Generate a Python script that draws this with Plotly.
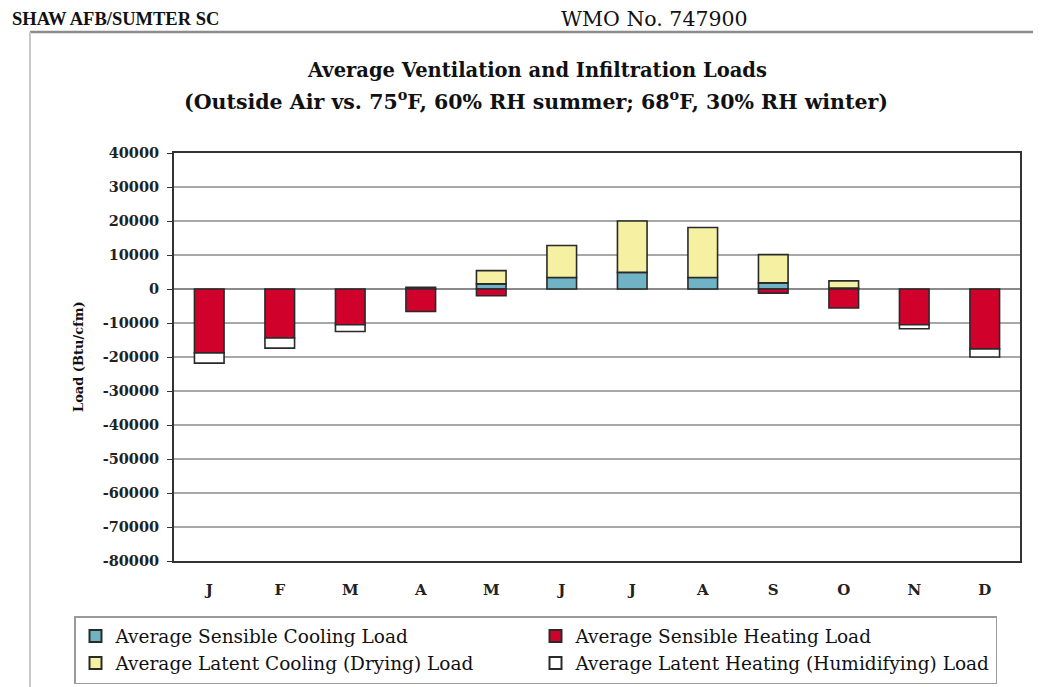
import plotly.graph_objects as go

# ---------------- data ----------------
month_names = ["Jan", "Feb", "Mar", "Apr", "May", "Jun", "Jul", "Aug", "Sep", "Oct", "Nov", "Dec"]
month_letters = ["J", "F", "M", "A", "M", "J", "J", "A", "S", "O", "N", "D"]

sensible_cooling = [None, None, None, 500, 1500, 3400, 4900, 3400, 1800, 300, None, None]
sensible_heating = [-18800, -14400, -10500, -6600, -2000, None, None, None, -1200, -5600, -10500, -17600]
latent_cooling = [None, None, None, None, 3900, 9400, 15100, 14700, 8300, 2100, None, None]
latent_heating = [-3000, -3000, -2000, None, None, None, None, None, None, None, -1200, -2400]

y_ticks = list(range(-80000, 40001, 10000))

series_names = [
    "Average Sensible Cooling Load",
    "Average Sensible Heating Load",
    "Average Latent Cooling (Drying) Load",
    "Average Latent Heating (Humidifying) Load",
]
series_values = [sensible_cooling, sensible_heating, latent_cooling, latent_heating]
series_colors = ["#6fb3c4", "#d0022c", "#f6f1a2", "#ffffff"]

# ---------------- layout constants (reference pixel coords) ----------------
OFF = 8                      # page body margin of the html page
W0, H0 = 1041, 687
W, H = W0 - OFF, H0 - OFF
PL, PR, PT, PB = 174, 1020, 153, 561     # plot area in reference pixels
L, R, T, B = PL - OFF, W0 - PR, PT - OFF, H0 - PB
SERIF = "Liberation Serif, Times New Roman, serif"
WIDE = "DejaVu Serif, serif"

fig = go.Figure()
for name, vals, col in zip(series_names, series_values, series_colors):
    fig.add_trace(go.Bar(
        x=month_names, y=vals, name=name,
        marker=dict(color=col, line=dict(color="#2a2a2a", width=1.6)),
        width=0.42,
    ))

pw = PR - PL
ph = PB - PT


def px_x(p):
    return (p - PL) / pw


def px_y(p):
    return (PB - p) / ph


fig.update_layout(
    width=W, height=H,
    margin=dict(l=L, r=R, t=T, b=B, autoexpand=False),
    paper_bgcolor="white", plot_bgcolor="white",
    barmode="relative",
    font=dict(family=WIDE, color="#111111"),
    xaxis=dict(
        tickvals=month_names, ticktext=["<b>%s</b>" % m for m in month_letters],
        tickfont=dict(family=WIDE, size=15, color="#222222"),
        showgrid=False, showline=True, linecolor="#333333", linewidth=2, mirror=True,
        ticks="", zeroline=False, ticklabelstandoff=14,
    ),
    yaxis=dict(
        range=[y_ticks[0], y_ticks[-1]], tickvals=y_ticks,
        ticktext=["<b>%d</b>" % v for v in y_ticks],
        tickfont=dict(family=WIDE, size=14.5, color="#222222"),
        showgrid=True, gridcolor="#a8a8a8", gridwidth=1.5,
        zeroline=True, zerolinecolor="#8a8a8a", zerolinewidth=1.5,
        showline=True, linecolor="#333333", linewidth=2, mirror=True,
        ticks="outside", ticklen=5, tickcolor="#333333", ticklabelstandoff=5,
    ),
    legend=dict(
        orientation="h", xref="paper", yref="paper",
        x=px_x(74), y=px_y(616), xanchor="left", yanchor="top",
        entrywidth=415, entrywidthmode="pixels",
        bordercolor="#9a9a9a", borderwidth=1.5, bgcolor="white",
        font=dict(family=WIDE, size=18.5, color="#111111"),
        traceorder="normal", itemsizing="constant",
    ),
    showlegend=True,
)

# title lines
fig.add_annotation(text="<b>Average Ventilation and Infiltration Loads</b>",
                   xref="paper", yref="paper", x=px_x(537), y=px_y(70),
                   xanchor="center", yanchor="middle", showarrow=False,
                   font=dict(family=WIDE, size=19.5, color="#111111"))
fig.add_annotation(text="<b>(Outside Air vs. 75<sup>o</sup>F, 60% RH summer; 68<sup>o</sup>F, 30% RH winter)</b>",
                   xref="paper", yref="paper", x=px_x(536), y=px_y(100),
                   xanchor="center", yanchor="middle", showarrow=False,
                   font=dict(family=WIDE, size=20.5, color="#111111"))

# y axis title
fig.add_annotation(text="<b>Load (Btu/cfm)</b>", xref="paper", yref="paper",
                   x=px_x(78), y=px_y(357), xanchor="center", yanchor="middle",
                   textangle=-90, showarrow=False,
                   font=dict(family=WIDE, size=13, color="#111111"))

# header texts
fig.add_annotation(text="<b>SHAW AFB/SUMTER SC</b>", xref="paper", yref="paper",
                   x=px_x(10), y=px_y(19), xanchor="left", yanchor="middle", showarrow=False,
                   font=dict(family=SERIF, size=18.5, color="#111111"))
fig.add_annotation(text="WMO No. 747900", xref="paper", yref="paper",
                   x=px_x(559), y=px_y(19), xanchor="left", yanchor="middle", showarrow=False,
                   font=dict(family=WIDE, size=20.5, color="#111111"))

# outer frame lines
fig.add_shape(type="line", xref="paper", yref="paper", x0=px_x(30), x1=px_x(W0), y0=px_y(32), y1=px_y(32),
              line=dict(color="#8c8c8c", width=2.5))
fig.add_shape(type="line", xref="paper", yref="paper", x0=px_x(30), x1=px_x(30), y0=px_y(32), y1=px_y(H0),
              line=dict(color="#c8c8c8", width=2))

fig.write_html("out.html")
